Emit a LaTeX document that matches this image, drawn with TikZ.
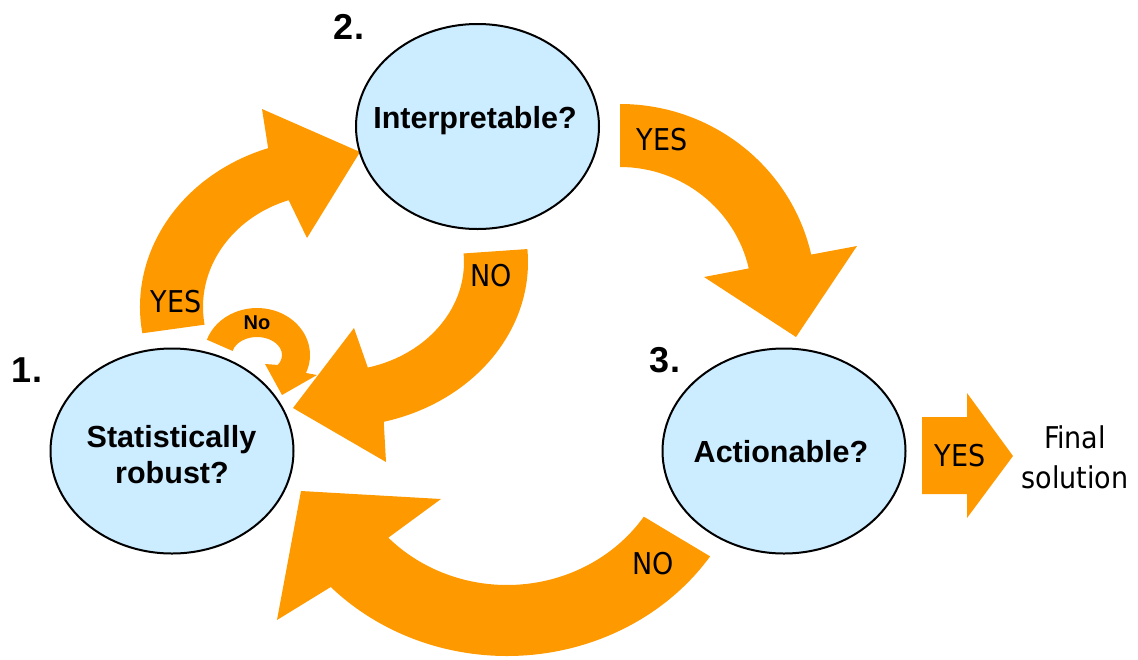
\documentclass[tikz,border=0pt]{standalone}
\usepackage{fontspec}
\setmainfont{Liberation Sans}
\newfontfamily\tah{DejaVu Sans Condensed}
\usetikzlibrary{shapes.geometric,calc}
\definecolor{arrorange}{HTML}{FF9900}
\definecolor{bubble}{HTML}{CCECFF}
\begin{document}
\begin{tikzpicture}[x=1pt,y=-1pt,
  blockarrow/.style={fill=arrorange},
  bubblenode/.style={ellipse,draw=black,line width=2pt,fill=bubble,minimum width=243pt,minimum height=205pt,inner sep=0pt},
  qtext/.style={font=\fontsize{30.5}{36}\selectfont\bfseries,anchor=base,inner sep=0pt},
  numtext/.style={font=\fontsize{36}{40}\selectfont\bfseries,inner sep=0pt},
  lbl/.style={font=\tah\fontsize{30}{36}\selectfont,inner sep=0pt},
  lblbase/.style={font=\tah\fontsize{30}{36}\selectfont,inner sep=0pt,anchor=base}]
\useasboundingbox (0,0) rectangle (1138,659);

% centres of the curved arrows
\coordinate (CA) at (330,307);
\coordinate (CB) at (336,262);
\coordinate (CC) at (620,297);
\coordinate (CD) at (507,430);
\coordinate (CL) at (257,355);

% arrow 1 -> 2 (YES)
\fill[blockarrow] ($(CA)+(171:190 and 168)$)
  arc[start angle=171,end angle=251,x radius=190,y radius=168]
  -- (262,109) -- (360,152) -- (307,238)
  -- ($(CA)+(251:127 and 113)$)
  arc[start angle=251,end angle=171,x radius=127,y radius=113] -- cycle;

% arrow 2 -> 1 (NO)
\fill[blockarrow] ($(CB)+(-4.5:192 and 165)$)
  arc[start angle=-4.5,end angle=75.6,x radius=192,y radius=165]
  -- (386,462) -- (293,408) -- (354,328)
  -- ($(CB)+(75.6:128 and 109)$)
  arc[start angle=75.6,end angle=-4.5,x radius=128,y radius=109] -- cycle;

% arrow 2 -> 3 (YES)
\fill[blockarrow] ($(CC)+(-90:196 and 193)$)
  arc[start angle=-90,end angle=-12.7,x radius=196,y radius=193]
  -- (857,246) -- (796,337) -- (704,277)
  -- ($(CC)+(-12.7:132 and 130)$)
  arc[start angle=-12.7,end angle=-90,x radius=132,y radius=130] -- cycle;

% arrow 3 -> 1 (NO)
\fill[blockarrow] ($(CD)+(34:245 and 226)$)
  arc[start angle=34,end angle=136,x radius=245,y radius=226]
  -- (277,620) -- (301,491) -- (441,499)
  -- ($(CD)+(136:165 and 155)$)
  arc[start angle=136,end angle=34,x radius=165,y radius=155] -- cycle;

% small loop arrow (No)
\fill[blockarrow] ($(CL)+(199:53 and 47)$)
  arc[start angle=199,end angle=382.5,x radius=53,y radius=47]
  -- (317,375) -- (282,395) -- (265,364)
  -- ($(CL)+(393.5:25 and 18)$)
  arc[start angle=393.5,end angle=193,x radius=25,y radius=18] -- cycle;

% straight arrow to final solution
\fill[blockarrow] (922,417) -- (967,417) -- (967,393) -- (1013,456)
  -- (967,518) -- (967,494) -- (922,494) -- cycle;

% bubbles
\node[bubblenode] (stat) at (172,451) {};
\node[bubblenode] (interp) at (477.5,126.5) {};
\node[bubblenode] (action) at (784,451) {};

\node[qtext] (statA) at (171.5,447) {Statistically};
\node[qtext] (statB) at (172,483) {robust?};
\node[qtext] (interpT) at (475,128) {Interpretable?};
\node[qtext] (actionT) at (781,462) {Actionable?};

% numbers
\node[numtext] (n1) at (27,370) {1.};
\node[numtext] (n2) at (349,27) {2.};
\node[numtext] (n3) at (665,360) {3.};

% arrow labels
\node[lbl] (yesA) at (176,302) {YES};
\node[lbl] (noB) at (491,276) {NO};
\node[lbl] (yesC) at (662,140) {YES};
\node[lbl] (noD) at (653,564) {NO};
\node[lbl] (yesE) at (960,456) {YES};
\node[font=\fontsize{20}{22}\selectfont\bfseries,inner sep=0pt] (noL) at (257,323) {No};

\node[lblbase] (fin1) at (1075,448) {Final};
\node[lblbase] (fin2) at (1075,488) {solution};
\end{tikzpicture}
\end{document}
